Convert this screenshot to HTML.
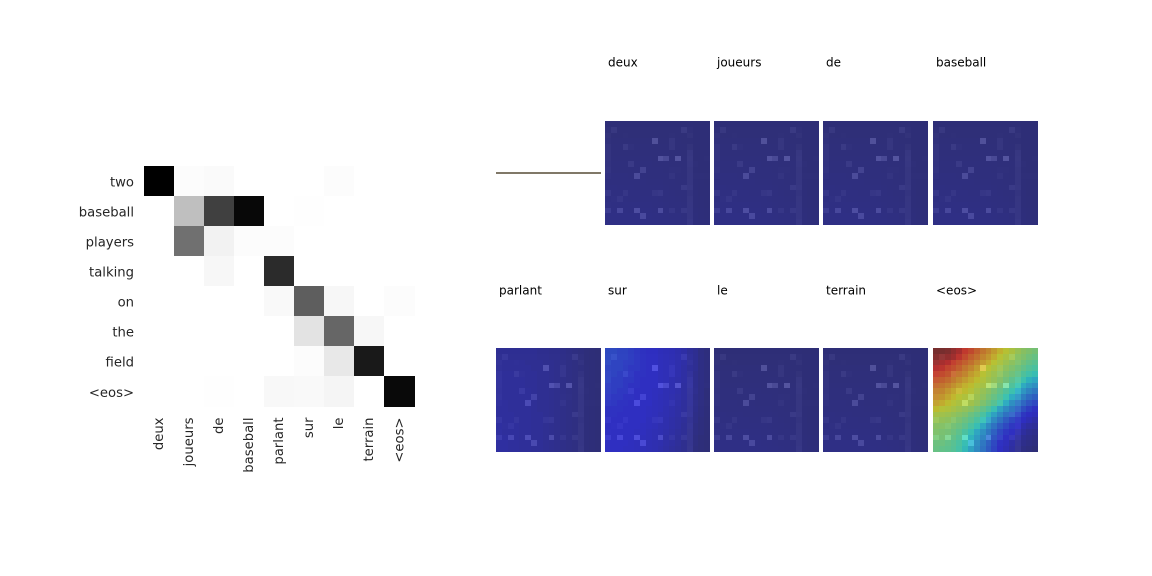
<!DOCTYPE html>
<html>
<head>
<meta charset="utf-8">
<title>Attention visualisation</title>
<style>
html,body{margin:0;padding:0;background:#fff;width:1152px;height:576px;overflow:hidden}
svg{display:block}
text{font-family:"DejaVu Sans","Liberation Sans",sans-serif}
</style>
</head>
<body>
<svg id="chart" width="1152" height="576" viewBox="0 0 1152 576" xmlns="http://www.w3.org/2000/svg"></svg>
<script>
const sourceWords = ["deux","joueurs","de","baseball","parlant","sur","le","terrain","<eos>"];
const targetWords = ["two","baseball","players","talking","on","the","field","<eos>"];
const alignment = [
[1.00,0.010,0.020,0,0,0,0.010,0,0],
[0,0.25,0.75,0.97,0,0.002,0,0,0],
[0,0.56,0.05,0.012,0.010,0,0,0,0],
[0,0,0.03,0,0.83,0,0,0,0],
[0,0,0,0,0.025,0.63,0.03,0,0.010],
[0,0,0,0,0,0.11,0.60,0.03,0],
[0,0,0,0,0,0.012,0.09,0.90,0],
[0,0,0.004,0,0.028,0.022,0.04,0,0.965]
];
const panelTitles = ["","deux","joueurs","de","baseball","parlant","sur","le","terrain","<eos>"];
const imageGray = [
[108,108,108,108,108,108,108,108,108,108,108,108,108,108,108,106,106,106],
[112,130,110,110,110,110,110,110,110,110,110,110,110,135,112,108,108,108],
[118,110,110,112,110,110,110,110,110,110,110,112,110,110,118,108,108,108],
[115,110,110,110,110,110,110,110,185,110,110,125,110,110,110,108,108,108],
[120,110,110,135,115,110,110,110,110,110,110,125,110,110,118,108,108,108],
[122,110,110,110,110,110,110,110,110,110,110,110,110,110,128,108,108,108],
[120,110,110,110,110,110,110,110,110,190,170,110,195,110,130,108,108,110],
[118,110,110,110,135,110,110,110,110,110,110,110,110,110,128,110,108,108],
[122,110,110,110,110,110,155,110,110,110,110,112,112,110,125,108,108,108],
[115,110,110,110,110,175,110,110,110,110,110,120,110,110,125,110,110,110],
[110,110,110,110,110,110,110,110,110,110,110,110,110,110,125,108,108,108],
[110,110,110,110,110,110,110,110,110,110,110,110,110,135,128,108,108,108],
[128,110,110,125,110,110,110,110,125,130,110,110,110,110,120,108,108,108],
[110,112,125,110,110,110,110,110,110,110,110,110,110,110,125,108,108,108],
[112,110,110,110,110,110,110,110,110,110,110,110,110,110,125,108,108,108],
[140,110,165,110,110,180,110,110,110,175,110,125,110,130,125,108,108,108],
[110,110,110,110,110,110,170,110,110,110,110,110,110,110,125,108,108,108],
[110,110,110,110,110,110,110,110,110,110,110,110,110,110,128,108,108,108]
];
const faintAttention = [
[0,0,0,0,0,0,0,0,0,0,0,0,0,0,0,0,0,0],
[0,0,0,0,0,0,0,0,0,0,0,0,0,0,0,0,0,0],
[0,0,0,0,0,0,0,0,0,0,0,0,0,0,0,0,0,0],
[0.3,0.3,0.3,0.3,0.3,0.3,0.3,0.3,0.3,0.2,0.2,0.2,0.2,0,0,0,0,0],
[0.4,0.4,0.4,0.4,0.4,0.4,0.4,0.4,0.3,0.3,0.3,0.3,0.2,0.2,0,0,0,0],
[0.5,0.5,0.5,0.5,0.5,0.5,0.5,0.5,0.4,0.4,0.4,0.3,0.3,0.2,0.2,0,0,0],
[0.6,0.6,0.6,0.6,0.6,0.6,0.6,0.6,0.5,0.5,0.5,0.4,0.4,0.3,0.2,0,0,0],
[0.7,0.7,0.7,0.7,0.7,0.7,0.7,0.7,0.6,0.6,0.6,0.5,0.4,0.4,0.3,0.1,0,0],
[0.8,0.8,0.8,0.8,0.8,0.8,0.8,0.7,0.7,0.7,0.6,0.6,0.5,0.4,0.3,0.2,0,0],
[1,1,1,1,0.9,0.9,0.9,0.8,0.8,0.8,0.7,0.7,0.6,0.5,0.4,0.2,0.1,0],
[1.1,1.1,1.1,1.1,1,1,1,0.9,0.9,0.9,0.8,0.7,0.6,0.6,0.4,0.3,0.1,0],
[1.3,1.3,1.2,1.2,1.2,1.1,1.1,1.1,1,1,0.9,0.8,0.7,0.6,0.5,0.3,0.2,0.1],
[1.4,1.4,1.4,1.3,1.3,1.3,1.2,1.2,1.1,1.1,1,0.9,0.8,0.7,0.5,0.4,0.2,0.1],
[1.5,1.5,1.5,1.5,1.4,1.4,1.4,1.3,1.3,1.2,1.1,1,0.9,0.8,0.6,0.4,0.3,0.2],
[1.7,1.7,1.7,1.6,1.6,1.6,1.5,1.5,1.4,1.3,1.2,1.1,1,0.9,0.7,0.5,0.3,0.2],
[1.8,1.8,1.8,1.8,1.7,1.7,1.7,1.6,1.5,1.5,1.4,1.3,1.1,1,0.8,0.6,0.4,0.3],
[2,2,2,1.9,1.9,1.9,1.8,1.8,1.7,1.6,1.5,1.4,1.3,1.1,0.9,0.7,0.5,0.3],
[2,2,2,2,2,1.9,1.9,1.8,1.8,1.7,1.6,1.5,1.3,1.2,1,0.8,0.6,0.4]
];
const parlantAttention = [
[4,4,4,4,4,4,4,3.5,3.5,3,3,2.5,2,1.5,1,0.5,0.2,0],
[4,4,4,4,4,4,4,3.5,3.5,3,3,2.5,2,1.5,1,0.5,0.2,0],
[4.5,4.5,4.5,4.5,4.5,4,4,4,3.5,3.5,3,2.5,2,1.5,1,0.5,0.3,0],
[4.5,4.5,4.5,4.5,4.5,4.5,4,4,3.5,3.5,3,2.5,2,1.5,1,0.6,0.3,0],
[5,5,5,4.5,4.5,4.5,4.5,4,4,3.5,3,2.5,2,1.5,1,0.6,0.3,0],
[5,5,5,5,5,4.5,4.5,4,4,3.5,3,2.5,2,1.5,1,0.6,0.3,0],
[5,5,5,5,5,4.5,4.5,4,4,3.5,3,2.5,2,1.5,1,0.6,0.3,0],
[5,5,5,5,5,5,4.5,4,4,3.5,3,2.5,2,1.5,1,0.6,0.3,0],
[5,5,5,5,5,5,4.5,4,4,3.5,3,2.5,2,1.5,1,0.6,0.3,0],
[5.5,5.5,5,5,5,5,4.5,4,4,3.5,3,2.5,2,1.5,1,0.6,0.3,0],
[5.5,5.5,5,5,5,5,4.5,4,4,3.5,3,2.5,2,1.5,1,0.6,0.3,0],
[5.5,5.5,5.5,5,5,5,4.5,4.5,4,3.5,3,2.5,2,1.5,1,0.6,0.3,0],
[5.5,5.5,5.5,5,5,5,4.5,4.5,4,3.5,3,2.5,2,1.5,1,0.6,0.3,0],
[6,5.5,5.5,5.5,5,5,4.5,4.5,4,3.5,3,2.5,2,1.5,1,0.6,0.3,0],
[6,5.5,5.5,5.5,5,5,4.5,4.5,4,3.5,3,2.5,2,1.5,1,0.6,0.3,0],
[6,6,5.5,5.5,5,5,4.5,4.5,4,3.5,3,2.5,2,1.5,1,0.6,0.3,0],
[6,6,5.5,5.5,5,5,4.5,4.5,4,3.5,3,2.5,2,1.5,1,0.6,0.3,0],
[6,6,5.5,5.5,5,5,4.5,4.5,4,3.5,3,2.5,2,1.5,1,0.6,0.3,0]
];
const surAttention = [
[17,17,16,16,15,14,13,12,11,10,9.5,9,8,7,5,4,2,1],
[17,17,16,16,15,14,13,12,11,10,9.5,9,8,7,5,4,2,1],
[17,16,16,15,15,14,13,12,11,10,9.5,9,8,7,5,4,2,1],
[16,16,16,15,14,14,13,12,11,10,9.5,9,8,6.5,5,4,2,1],
[16,16,15,15,14,13,13,12,11,10,9.5,9,8,6.5,5,3.5,2,1],
[16,15,15,14,14,13,12,12,11,10,9.5,8.5,7.5,6.5,5,3.5,2,1],
[15,15,15,14,13,13,12,11,11,10,9,8.5,7.5,6,5,3.5,2,1],
[15,15,14,14,13,12,12,11,10.5,10,9,8.5,7.5,6,4.5,3.5,2,0.5],
[14,14,14,13,13,12,11.5,11,10.5,9.5,9,8,7,6,4.5,3,2,0.5],
[14,14,13,13,12,12,11.5,11,10,9.5,9,8,7,5.5,4.5,3,1.5,0.5],
[13,13,13,12,12,11.5,11,10.5,10,9.5,8.5,7.5,6.5,5.5,4,3,1.5,0.5],
[13,13,12,12,11.5,11.5,11,10.5,10,9,8.5,7.5,6.5,5,4,2.5,1.5,0.5],
[12,12,12,12,11.5,11,11,10,9.5,9,8,7,6,5,3.5,2.5,1,0.3],
[12,12,12,11.5,11,11,10.5,10,9.5,8.5,8,7,6,4.5,3.5,2,1,0.3],
[12,12,11.5,11.5,11,10.5,10.5,9.5,9,8.5,7.5,6.5,5.5,4.5,3,2,1,0.2],
[11.5,11.5,11.5,11,11,10.5,10,9.5,9,8,7,6,5,4,3,1.5,0.5,0.2],
[11.5,11.5,11,11,10.5,10,10,9,8.5,8,7,6,5,3.5,2.5,1.5,0.5,0],
[11,11,11,10.5,10.5,10,9.5,9,8.5,7.5,6.5,5.5,4.5,3.5,2.5,1,0.5,0]
];
const eosAttention = [
[100,100,99,96,93,89,86,82,78,75,71,67,64,61,57,54,52,50],
[98,97,96,94,90,86,82,79,75,72,68,64,61,58,54,52,49,47],
[95,93,91,88,85,82,79,75,71,68,64,61,58,55,52,49,46,44],
[91,90,87,85,82,78,75,71,68,64,61,58,55,52,49,46,43,41],
[88,86,84,81,78,75,71,68,64,61,58,55,52,49,46,42,39,37],
[84,82,80,77,74,71,68,65,62,59,56,53,49,45,42,38,35,33],
[80,78,76,73,70,67,65,62,60,57,54,50,46,42,38,34,31,29],
[76,75,72,69,67,65,63,60,57,54,50,46,42,38,34,30,27,25],
[74,72,69,66,64,62,60,58,55,51,47,43,38,34,30,26,23,21],
[70,68,65,63,61,60,59,56,52,48,44,39,34,29,25,22,19,17],
[65,63,62,60,58,56,54,50,46,42,37,32,28,25,21,18,15,13],
[60,59,58,56,54,52,48,45,41,36,32,28,24,21,17,14,11,10],
[57,56,55,53,51,48,45,41,37,32,28,24,20,17,14,11,9,7],
[54,53,52,50,48,45,41,37,33,28,24,20,17,14,11,8,6,5],
[52,51,50,48,45,41,37,33,29,25,21,17,14,11,8,6,4,3],
[50,50,48,46,43,39,35,31,27,23,19,15,12,9,6,4,3,2],
[48,48,46,44,41,37,33,29,25,21,17,13,10,7,4,3,2,1],
[47,46,45,43,40,36,32,28,24,20,16,12,9,6,3,2,1,0]
];

const NS = "http://www.w3.org/2000/svg";
const svg = document.getElementById("chart");

function make(tag, attrs, parent) {
  const el = document.createElementNS(NS, tag);
  for (const k in attrs) el.setAttribute(k, attrs[k]);
  (parent || svg).appendChild(el);
  return el;
}
const snap = v => Math.floor(v + 0.001);

/* Alignment matrix */
const mapLeft = 144, mapTop = 166, mapRight = 415, mapBottom = 407;
const xScale = i => snap(mapLeft + i * (mapRight - mapLeft) / sourceWords.length);
const yScale = j => snap(mapTop + j * (mapBottom - mapTop) / targetWords.length);
const grayOf = v => { const g = Math.round(255 * (1 - v)); return `rgb(${g},${g},${g})`; };

const matrix = make("g", {"shape-rendering": "crispEdges"});


alignment.forEach((row, j) => row.forEach((v, i) => {
  const cell = make("rect", {
    x: xScale(i), y: yScale(j),
    width: xScale(i + 1) - xScale(i), height: yScale(j + 1) - yScale(j),
    fill: grayOf(v)
  }, matrix);
  
  
}));

targetWords.forEach((w, j) => {
  const t = make("text", {
    x: 134, y: (yScale(j) + yScale(j + 1)) / 2 + 1.5,
    "text-anchor": "end", "dominant-baseline": "middle",
    "font-size": "13.2", fill: "#262626"
  });
  
  
  t.textContent = w;
});

sourceWords.forEach((w, i) => {
  const cx = (xScale(i) + xScale(i + 1)) / 2;
  const t = make("text", {
    transform: `translate(${cx},417.5) rotate(-90)`,
    "text-anchor": "end", "dominant-baseline": "middle",
    "font-size": "13.2", fill: "#262626"
  });
  
  
  t.textContent = w;
});

/* Overlay panels */
const panelColumns = 5, panelW = 105, panelH = 104, cellsPerSide = 18;
const panelX = col => snap(496 + col * 109.25);
const panelY = row => row === 0 ? 121 : 348;
const titleY = row => row === 0 ? 63 : 291;
const overlayAlpha = 0.43;

function lerp(a, b, t) { return a + (b - a) * Math.min(1, Math.max(0, t)); }
function jet(v) {
  let r, g, b;
  r = v < 0.35 ? 0 : v < 0.66 ? lerp(0, 1, (v - 0.35) / 0.31) : v < 0.89 ? 1 : lerp(1, 0.5, (v - 0.89) / 0.11);
  g = v < 0.125 ? 0 : v < 0.375 ? lerp(0, 1, (v - 0.125) / 0.25) : v < 0.64 ? 1 : lerp(1, 0, (v - 0.64) / 0.27);
  b = v < 0.11 ? lerp(0.5, 1, v / 0.11) : v < 0.34 ? 1 : lerp(1, 0, (v - 0.34) / 0.31);
  return [r * 255, g * 255, b * 255];
}
const panelFields = {
  "deux": faintAttention, "joueurs": faintAttention, "de": faintAttention,
  "baseball": faintAttention, "parlant": parlantAttention, "sur": surAttention,
  "le": faintAttention, "terrain": faintAttention, "<eos>": eosAttention
};

panelTitles.forEach((title, index) => {
  const col = index % panelColumns, row = Math.floor(index / panelColumns);
  const px = panelX(col), py = panelY(row);
  if (title === "") {
    const rule = make("rect", {x: px, y: py + 51, width: panelW, height: 2, fill: "#807868"});
    
    
    return;
  }
  const label = make("text", {
    x: px + 3, y: titleY(row), "dominant-baseline": "middle",
    "font-size": "12", fill: "#000"
  });
  
  
  label.textContent = title;

  const group = make("g", {"shape-rendering": "crispEdges"});
  
  
  const field = panelFields[title];
  const edgeX = k => Math.round(k * panelW / cellsPerSide);
  const edgeY = k => Math.round(k * panelH / cellsPerSide);
  for (let r = 0; r < cellsPerSide; r++) {
    for (let c = 0; c < cellsPerSide; c++) {
      const [jr, jg, jb] = jet(field[r][c] / 100);
      const gray = imageGray[r][c];
      const mix = ch => Math.round(ch * (1 - overlayAlpha) + gray * overlayAlpha);
      const cell = make("rect", {
        x: px + edgeX(c), y: py + edgeY(r),
        width: edgeX(c + 1) - edgeX(c), height: edgeY(r + 1) - edgeY(r),
        fill: `rgb(${mix(jr)},${mix(jg)},${mix(jb)})`
      }, group);
      
      
    }
  }
});
</script>
</body>
</html>
